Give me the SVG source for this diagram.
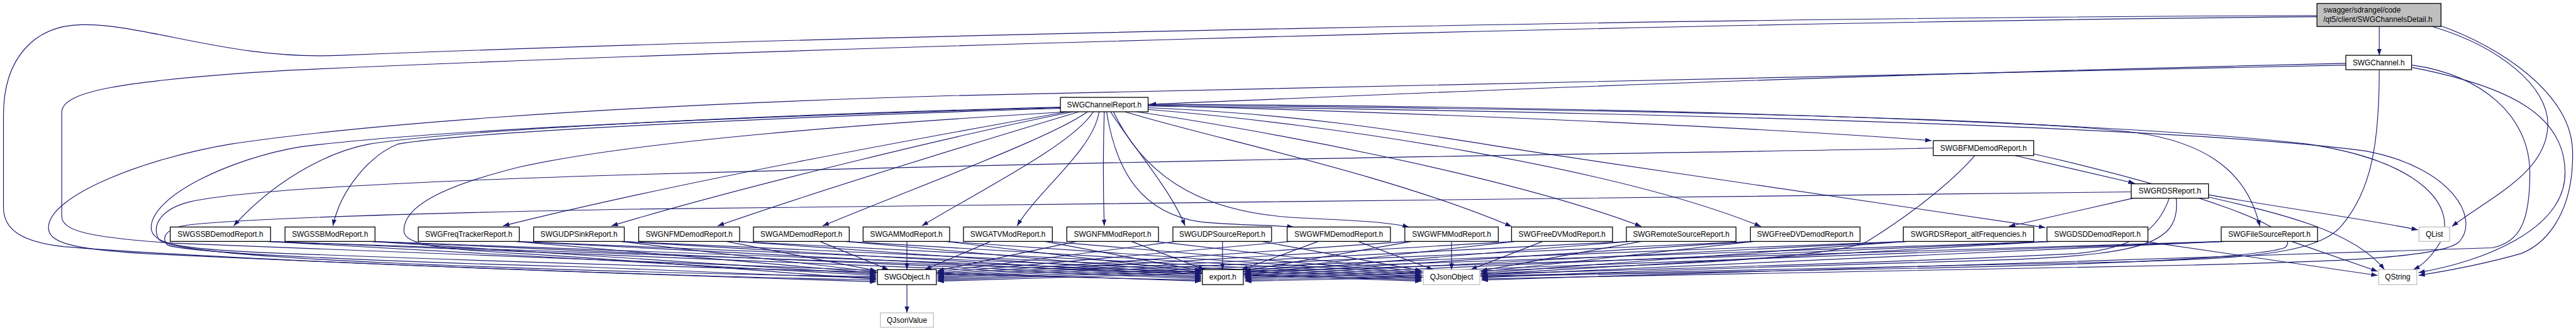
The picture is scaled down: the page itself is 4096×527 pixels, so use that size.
<svg xmlns="http://www.w3.org/2000/svg" width="4096" height="527" viewBox="0 0 4096 527">
<defs>
<marker id="a" viewBox="0 0 11 8" refX="11" refY="4" markerWidth="11" markerHeight="8" markerUnits="userSpaceOnUse" orient="auto"><path d="M0,0L11,4L0,8z" fill="#191970"/></marker>
<style>
.e path{fill:none;stroke:#191970;stroke-width:1.25;marker-end:url(#a)}
.n rect{fill:#fff;stroke:#000;stroke-width:1.4}
.x rect{fill:#fff;stroke:#bfbfbf;stroke-width:1.4}
.r rect{fill:#bfbfbf;stroke:#000;stroke-width:1.4}
text{font-family:"Liberation Sans",Arial,Helvetica,sans-serif;font-size:13px;fill:#000}
.c{text-anchor:middle}
</style>
</defs>
<rect width="4096" height="527" fill="#fff"/>
<g transform="scale(0.91736)">
<g id="edges" class="e">
<path d="M4124,46 L4124,96"/>
<path d="M4016,27 C3000,30 1500,60 590,96 C400,105 250,40 140,43 C60,45 6,100 6,200 L6,360 C6,400 40,420 110,428 C400,452 1100,476 1519,489"/>
<path d="M4016,29 C2800,40 1200,90 500,122 C200,140 107,160 107,195 L107,375 C107,400 150,412 300,422 C700,440 1500,470 2082,488"/>
<path d="M4216,46 C4330,80 4420,150 4416,220 C4412,300 4320,340 4250,393"/>
<path d="M4231,45 C4330,80 4455,160 4459,260 C4462,360 4420,420 4370,440 C4300,460 4230,472 4192,478"/>
<path d="M4066,110 C3000,135 2400,165 1993,181"/>
<path d="M4066,113 C3000,135 2400,150 1650,166 C1000,185 600,220 400,250 C250,275 84,340 84,395 C84,420 120,432 250,440 C700,462 1200,480 1519,486"/>
<path d="M4124,121 C4124,250 4110,330 4060,390 C4020,440 3900,448 3700,454 C3200,465 2500,480 2158,488"/>
<path d="M4181,113 C4300,130 4385,200 4385,300 C4385,380 4370,420 4320,430 C4000,445 3000,470 2568,486"/>
<path d="M4181,117 C4350,150 4446,200 4446,300 C4446,400 4300,455 4192,473"/>
<path d="M1838,186 C1300,200 800,225 640,250 C560,265 470,320 405,392"/>
<path d="M1838,188 C1300,205 800,230 690,250 C640,270 590,330 577,392"/>
<path d="M1838,187 C1300,202 750,225 520,255 C400,275 262,340 262,395 C262,425 320,432 450,438 C1000,460 1700,478 2082,486"/>
<path d="M1850,194 C1500,215 1100,245 900,290 C760,325 700,360 700,400 C700,425 760,432 900,440 C1200,458 1400,478 1519,484"/>
<path d="M1850,194 C1650,230 1200,310 872,392"/>
<path d="M1860,194 C1700,225 1300,320 1060,392"/>
<path d="M1870,194 C1750,230 1450,320 1244,392"/>
<path d="M1885,194 C1820,240 1600,320 1426,392"/>
<path d="M1895,194 C1860,250 1700,330 1598,392"/>
<path d="M1905,194 C1895,260 1800,330 1763,392"/>
<path d="M1914,194 C1912,260 1912,330 1914,392"/>
<path d="M1925,194 C1960,250 2030,330 2054,392"/>
<path d="M1918,194 C1935,300 1980,370 2080,385 C2150,392 2200,390 2242,394"/>
<path d="M1930,194 C1990,320 2100,370 2250,378 C2330,382 2400,384 2442,394"/>
<path d="M1950,194 C2100,240 2400,300 2620,393"/>
<path d="M1970,194 C2150,220 2600,300 2845,393"/>
<path d="M1990,190 C2300,215 2800,290 3052,393"/>
<path d="M1990,187 C2300,200 2500,240 2700,270 C3000,315 3350,365 3545,395"/>
<path d="M1990,183 C2600,200 3100,225 3348,244"/>
<path d="M1990,182 C2800,190 3500,205 3700,230 C3850,250 3900,320 3917,393"/>
<path d="M1990,181 C2900,185 3700,215 4000,250 C4200,280 4260,360 4230,420 C4215,445 4200,460 4183,468"/>
<path d="M1990,184 C2900,195 3800,222 4100,262 C4250,290 4300,380 4262,420 C4230,450 4000,455 3800,460 C3300,468 2800,478 2568,484"/>
<path d="M3493,270 L3700,318"/>
<path d="M3351,257 C3000,265 2200,272 1100,303 C700,315 420,330 330,350 C280,362 262,390 275,415 C290,440 600,455 900,465 C1200,475 1400,479 1519,480"/>
<path d="M3423,270 C3380,320 3300,380 3238,418 C3200,440 3000,455 2800,462 C2500,472 2300,480 2158,484"/>
<path d="M3525,267 C3800,330 4000,400 3960,430 C3900,450 3600,460 3300,466 C3000,472 2700,478 2568,480"/>
<path d="M3697,344 L3482,393"/>
<path d="M3828,338 C3950,360 4100,380 4191,399"/>
<path d="M3828,342 C3950,370 4080,400 4133,468"/>
<path d="M3694,333 C3000,345 2200,350 1100,363 C700,370 420,380 330,390 C290,395 278,410 290,425 C320,440 700,455 1000,463 C1250,472 1400,481 1519,482"/>
<path d="M3760,344 C3740,400 3700,430 3600,440 C3200,460 2600,475 2158,486"/>
<path d="M3772,344 C3780,420 3720,440 3500,450 C3200,460 2800,470 2568,482"/>
<path d="M463,419 L1519,478"/><path d="M463,419 L2082,484"/><path d="M463,419 L2464,488"/>
<path d="M644,419 L1519,476"/><path d="M644,419 L2082,482"/><path d="M644,419 L2464,486"/>
<path d="M894,419 L1519,474"/><path d="M894,419 L2082,480"/><path d="M894,419 L2464,484"/>
<path d="M1076,419 L1519,472"/><path d="M1076,419 L2082,478"/><path d="M1076,419 L2464,482"/>
<path d="M1259,419 L1519,470"/><path d="M1276,419 L2082,476"/><path d="M1276,419 L2464,480"/>
<path d="M1421,419 L1540,468"/><path d="M1466,419 L2082,474"/><path d="M1466,419 L2464,478"/>
<path d="M1572,419 L1572,468"/><path d="M1640,419 L2082,472"/><path d="M1640,419 L2464,476"/>
<path d="M1717,419 L1603,468"/><path d="M1811,419 L2082,470"/><path d="M1818,419 L2464,474"/>
<path d="M1866,419 L1625,470"/><path d="M1961,419 L2088,468"/><path d="M2002,419 L2464,472"/>
<path d="M2039,419 L1625,472"/><path d="M2119,419 L2119,468"/><path d="M2187,419 L2464,470"/>
<path d="M2237,419 L1625,474"/><path d="M2285,419 L2152,468"/><path d="M2354,419 L2484,468"/>
<path d="M2441,419 L1625,476"/><path d="M2447,419 L2157,470"/><path d="M2516,419 L2516,468"/>
<path d="M2626,419 L1625,478"/><path d="M2626,419 L2157,472"/><path d="M2674,419 L2549,468"/>
<path d="M2825,419 L1625,480"/><path d="M2825,419 L2157,474"/><path d="M2845,419 L2567,470"/>
<path d="M3040,419 L1625,482"/><path d="M3040,419 L2157,476"/><path d="M3040,419 L2567,472"/>
<path d="M3305,419 L1625,484"/><path d="M3305,419 L2157,478"/><path d="M3305,419 L2567,474"/>
<path d="M3554,419 L1625,486"/><path d="M3554,419 L2157,480"/><path d="M3554,419 L2567,476"/><path d="M3717,419 L4121,478"/>
<path d="M3856,419 L1625,488"/><path d="M3856,419 L2157,482"/><path d="M3856,419 L2567,478"/><path d="M3972,419 L4121,471"/>
<path d="M1572,494 L1572,543"/>
</g>
<g id="n_root" class="r"><rect x="4016" y="6" width="215" height="40"/><text x="4027" y="22">swagger/sdrangel/code</text><text x="4027" y="38">/qt5/client/SWGChannelsDetail.h</text></g>
<g id="n_channel" class="n"><rect x="4066" y="96" width="114" height="25"/><text class="c" x="4123" y="113">SWGChannel.h</text></g>
<g id="n_channelreport" class="n"><rect x="1838" y="169" width="152" height="25"/><text class="c" x="1914" y="186">SWGChannelReport.h</text></g>
<g id="n_bfm" class="n"><rect x="3351" y="244" width="174" height="26"/><text class="c" x="3438" y="261.5">SWGBFMDemodReport.h</text></g>
<g id="n_rds" class="n"><rect x="3694" y="319" width="134" height="25"/><text class="c" x="3761" y="336">SWGRDSReport.h</text></g>
<g id="n_ssbdemod" class="n"><rect x="295" y="394" width="174" height="25"/><text class="c" x="382" y="411">SWGSSBDemodReport.h</text></g>
<g id="n_ssbmod" class="n"><rect x="494" y="394" width="156" height="25"/><text class="c" x="572" y="411">SWGSSBModReport.h</text></g>
<g id="n_freqtracker" class="n"><rect x="725" y="394" width="175" height="25"/><text class="c" x="812.5" y="411">SWGFreqTrackerReport.h</text></g>
<g id="n_udpsink" class="n"><rect x="925" y="394" width="157" height="25"/><text class="c" x="1003.5" y="411">SWGUDPSinkReport.h</text></g>
<g id="n_nfmdemod" class="n"><rect x="1107" y="394" width="175" height="25"/><text class="c" x="1194.5" y="411">SWGNFMDemodReport.h</text></g>
<g id="n_amdemod" class="n"><rect x="1306" y="394" width="166" height="25"/><text class="c" x="1389" y="411">SWGAMDemodReport.h</text></g>
<g id="n_ammod" class="n"><rect x="1496" y="394" width="150" height="25"/><text class="c" x="1571" y="411">SWGAMModReport.h</text></g>
<g id="n_atvmod" class="n"><rect x="1670" y="394" width="154" height="25"/><text class="c" x="1747" y="411">SWGATVModReport.h</text></g>
<g id="n_nfmmod" class="n"><rect x="1849" y="394" width="159" height="25"/><text class="c" x="1928.5" y="411">SWGNFMModReport.h</text></g>
<g id="n_udpsource" class="n"><rect x="2033" y="394" width="171" height="25"/><text class="c" x="2118.5" y="411">SWGUDPSourceReport.h</text></g>
<g id="n_wfmdemod" class="n"><rect x="2231" y="394" width="179" height="25"/><text class="c" x="2320.5" y="411">SWGWFMDemodReport.h</text></g>
<g id="n_wfmmod" class="n"><rect x="2435" y="394" width="162" height="25"/><text class="c" x="2516" y="411">SWGWFMModReport.h</text></g>
<g id="n_freedvmod" class="n"><rect x="2620" y="394" width="175" height="25"/><text class="c" x="2707.5" y="411">SWGFreeDVModReport.h</text></g>
<g id="n_remotesource" class="n"><rect x="2819" y="394" width="190" height="25"/><text class="c" x="2914" y="411">SWGRemoteSourceReport.h</text></g>
<g id="n_freedvdemod" class="n"><rect x="3034" y="394" width="190" height="25"/><text class="c" x="3129" y="411">SWGFreeDVDemodReport.h</text></g>
<g id="n_rdsalt" class="n"><rect x="3299" y="394" width="226" height="25"/><text class="c" x="3412" y="411">SWGRDSReport_altFrequencies.h</text></g>
<g id="n_dsddemod" class="n"><rect x="3548" y="394" width="175" height="25"/><text class="c" x="3635.5" y="411">SWGDSDDemodReport.h</text></g>
<g id="n_filesource" class="n"><rect x="3850" y="394" width="167" height="25"/><text class="c" x="3933.5" y="411">SWGFileSourceReport.h</text></g>
<g id="n_qlist" class="x"><rect x="4193" y="394" width="53" height="25"/><text class="c" x="4219.5" y="411">QList</text></g>
<g id="n_swgobject" class="n"><rect x="1521" y="468" width="102" height="26"/><text class="c" x="1572" y="485.5">SWGObject.h</text></g>
<g id="n_export" class="n"><rect x="2084" y="468" width="71" height="26"/><text class="c" x="2119.5" y="485.5">export.h</text></g>
<g id="n_qjsonobject" class="x"><rect x="2467" y="468" width="98" height="26"/><text class="c" x="2516" y="485.5">QJsonObject</text></g>
<g id="n_qstring" class="x"><rect x="4123" y="468" width="66" height="26"/><text class="c" x="4156" y="485.5">QString</text></g>
<g id="n_qjsonvalue" class="x"><rect x="1526" y="543" width="92" height="25"/><text class="c" x="1572" y="560">QJsonValue</text></g>
</g>
</svg>
